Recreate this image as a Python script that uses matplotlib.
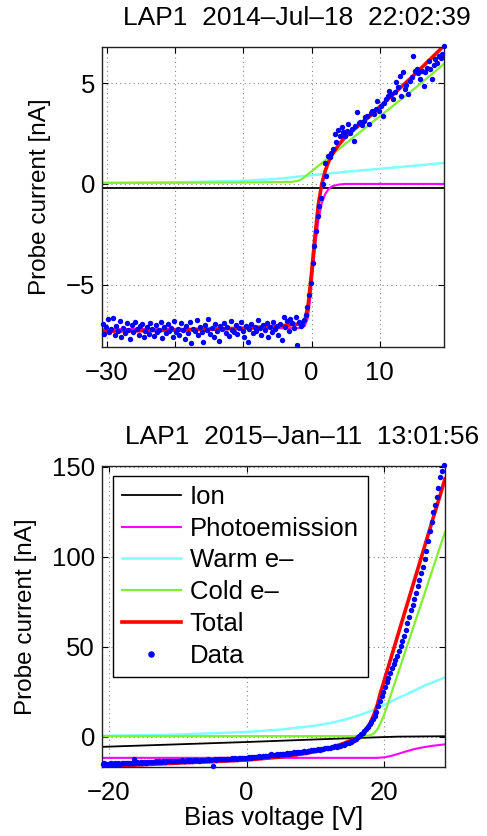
import numpy as np
import matplotlib
matplotlib.use("Agg")
import matplotlib.pyplot as plt

plt.rcParams['font.family'] = ['Liberation Sans', 'DejaVu Sans']

# ---------------- Top panel data (2014-Jul-18) ----------------
top_title = "LAP1  2014–Jul–18  22:02:39"
top_ion_v = [-30.7, 19.4]
top_ion_i = [-0.2, -0.2]
top_photo_v = [-30.7, -2, -1, -0.5, 0, 0.5, 1, 1.5, 2, 2.5, 3, 4, 5, 19.4]
top_photo_i = [-7.2, -7.15, -7.05, -6.6, -5.0, -3.2, -1.8, -0.95, -0.5, -0.25, -0.12, -0.03, 0.0, 0.0]
top_warm_v = [-30.7, -20, -10, -5, -2, 0, 5, 10, 15, 19.4]
top_warm_i = [0.05, 0.08, 0.15, 0.25, 0.36, 0.43, 0.6, 0.75, 0.9, 1.04]
top_cold_v = [-30.7, -10, -3, -2, -1.5, -1, 0, 1, 2, 5, 10, 15, 19.4]
top_cold_i = [0.05, 0.07, 0.1, 0.15, 0.22, 0.35, 0.62, 0.9, 1.17, 2.0, 3.35, 4.7, 5.95]
top_total_v = [-30.7, -20, -10, -5, -2, -1, -0.5, 0, 0.5, 1, 1.5, 2, 2.5, 3, 4, 5, 8.5, 11.5, 14.4, 17.3, 19.4]
top_total_i = [-7.3, -7.25, -7.15, -7.05, -6.95, -6.8, -6.0, -4.4, -2.6, -1.0, 0.0, 0.65, 1.1, 1.45, 1.95, 2.35, 3.35, 4.3, 5.2, 6.15, 6.85]
top_bias_start = -30.6
top_bias_step = 0.25
top_data_i = [
    -6.95, -7.45, -7.1, -6.7, -7.35, -7.2, -6.65, -7.5, -7.05, -7.3,
    -6.8, -7.6, -7.15, -7.4, -6.9, -7.25, -7.7, -7.0, -7.35, -6.85,
    -7.2, -7.5, -7.05, -6.95, -7.6, -7.3, -7.1, -7.45, -6.9, -7.2,
    -7.55, -7.0, -7.35, -7.25, -6.85, -7.65, -7.1, -7.4, -6.95, -7.3,
    -7.15, -7.6, -6.8, -7.35, -7.2, -7.5, -6.9, -7.25, -7.7, -7.05,
    -7.4, -6.85, -7.9, -7.2, -7.3, -6.75, -7.5, -7.1, -7.35, -7.85,
    -7.0, -7.25, -6.7, -7.45, -7.15, -7.6, -6.95, -7.3, -7.8, -7.05,
    -7.2, -6.9, -7.4, -7.1, -7.55, -6.8, -7.25, -7.35, -7.0, -7.45,
    -7.15, -6.85, -7.3, -7.6, -7.05, -7.85, -7.2, -6.95, -7.4, -7.1,
    -7.3, -6.75, -7.15, -7.5, -7.0, -7.25, -6.9, -7.6, -7.1, -7.35,
    -6.85, -7.2, -7.05, -7.5, -6.95, -7.75, -6.6, -7.1, -6.8, -7.3,
    -6.7, -6.9, -7.15, -6.6, -8.0, -6.85, -7.05, -6.95, -6.75,
    -6.5, -6.1, -5.5, -4.9, -3.9, -3.1, -2.35, -1.6, -1.1, -0.7, 0.0, 1.05, 0.4,
    1.4, 1.32, 1.55, 1.73, 2.45, 2.06, 2.69, 2.39, 2.8, 2.55,
    2.39, 2.6, 2.95, 2.5, 2.72, 2.15, 2.85, 3.58, 3.0, 3.09,
    2.9, 3.14, 3.3, 3.38, 2.97, 3.5, 3.63, 3.45, 3.7, 4.13,
    3.6, 3.88, 3.38, 4.0, 4.21, 4.35, 4.62, 4.46, 4.2, 4.55,
    5.03, 4.8, 5.36, 4.37, 5.53, 4.7, 4.9, 4.46, 5.1, 5.3,
    6.32, 5.61, 5.69, 5.5, 5.2, 5.6, 4.87, 5.53, 5.75, 6.1,
    5.69, 5.2, 5.9, 6.19, 6.0, 6.35, 6.25, 6.44, 6.85,
]
top_xticks = [-30, -20, -10, 0, 10]
top_yticks = [-5, 0, 5]

# ---------------- Bottom panel data (2015-Jan-11) ----------------
bot_title = "LAP1  2015–Jan–11  13:01:56"
bot_ion_v = [-21, 0, 12, 18, 22, 28.8]
bot_ion_i = [-5.6, -2.9, -1.2, -0.4, 0.1, 0.3]
bot_photo_v = [-21, 19, 20, 21, 22, 23, 24, 25, 26, 27, 28.8]
bot_photo_i = [-11.7, -11.7, -11.4, -10.6, -9.5, -8.3, -7.2, -6.3, -5.6, -5.0, -4.2]
bot_warm_v = [-21, -10, 0, 5, 10, 12, 14, 16, 18, 20, 22, 24, 26, 28.8]
bot_warm_i = [0.5, 1.2, 2.7, 4.0, 6.2, 7.5, 9.3, 11.5, 14.3, 17.8, 21.5, 25.0, 28.7, 33.0]
bot_cold_v = [-21, 17, 18, 18.5, 19, 19.5, 20, 21, 22, 24, 26, 28.8]
bot_cold_i = [0.3, 0.4, 0.9, 2.0, 4.2, 8.0, 12.6, 24.0, 35.5, 58.5, 81.5, 113.8]
bot_total_v = [-21, -15, -10, -5, 0, 5, 8, 10, 12, 14, 15, 16, 17, 18, 18.5, 19, 19.4,
               20, 21, 22, 23, 24, 25, 26, 27, 28, 28.8]
bot_total_i = [-16.5, -15.5, -14.6, -13.8, -12.9, -11.2, -9.6, -8.2, -6.3, -3.8, -2.2, -0.6, 2.3,
               8.0, 12.5, 18.0, 24.0, 31.6, 44.3, 57.0, 69.7, 82.4, 95.0, 107.8, 120.5, 133.0, 143.3]
bot_bias_start = -20.9
bot_bias_step = 0.25
bot_data_i = [
    -15.2, -14.8, -15.3, -14.9, -15.1, -14.6, -15.0, -14.8, -15.2, -14.7,
    -14.9, -14.5, -14.8, -14.4, -14.7, -14.6, -14.3, -14.6, -12.3, -14.4,
    -14.1, -14.4, -14.2, -14.5, -14.0, -14.3, -13.9, -14.2, -14.0, -13.8,
    -14.0, -13.7, -13.9, -13.6, -13.8, -13.5, -13.9, -13.6, -13.4, -13.7,
    -13.6, -13.3, -13.5, -13.2, -13.6, -13.4, -13.1, -13.3, -13.5, -13.0,
    -13.2, -13.0, -13.3, -12.8, -13.1, -12.9, -13.2, -12.7, -13.0, -12.9,
    -12.8, -12.6, -12.9, -12.7, -16.2, -12.5, -12.8, -12.4, -12.6, -12.3,
    -12.4, -12.2, -12.5, -12.1, -12.3, -12.0, -12.2, -11.9, -12.1, -11.8,
    -12.0, -11.7, -11.9, -11.6, -11.8, -11.4, -11.6, -11.2, -11.5, -11.1,
    -11.0, -10.8, -11.1, -10.6, -10.9, -10.5, -10.7, -10.3, -9.6, -10.0,
    -9.9, -9.7, -9.9, -9.5, -9.6, -9.3, -9.5, -9.1, -9.3, -8.9,
    -8.8, -8.6, -8.8, -8.4, -8.5, -8.2, -8.4, -8.0, -8.2, -7.8,
    -7.7, -7.5, -7.6, -7.2, -7.3, -6.9, -7.1, -6.7, -6.8, -6.5,
    -6.4, -6.0, -6.1, -5.7, -5.7, -5.3, -5.4, -5.0, -4.9, -4.6,
    -4.4, -4.0, -3.6, -3.2, -2.7, -2.2, -1.6, -1.0, -0.3, 0.5,
    1.3, 2.2, 3.2, 4.3, 5.5, 6.9, 8.4, 10.0, 11.8, 13.8,
    17.0, 19.7, 22.4, 25.0, 27.7, 30.3, 32.9, 35.4, 38.0, 40.3,
    42.4, 44.8, 47.5, 50.2, 53.0, 56.1, 59.5, 63.0, 66.8, 70.3,
    73.5, 76.8, 80.0, 83.6, 87.2, 90.9, 94.6, 98.8, 103.5, 109.0,
    114.5, 119.5, 124.9, 128.8, 133.2, 138.5, 144.3, 147.5, 151.0,
]
bot_xticks = [-20, 0, 20]
bot_yticks = [0, 50, 100, 150]

legend_labels = ["Ion", "Photoemission", "Warm e–", "Cold e–", "Total", "Data"]

# ---------------- Styling ----------------
C_ION = "black"
C_PHOTO = "#ff00ff"
C_WARM = "#80ffff"
C_COLD = "#80f030"
C_TOTAL = "#ff0000"
C_DATA = "#0000ff"
FS_TICK = 18.5
FS_LEG = 18.5
FS_TITLE = 19
FS_YLAB = 17.5
FS_XLAB = 18.5

fig = plt.figure(figsize=(4.87, 8.36), dpi=100)
ax1 = fig.add_axes([0.2094, 0.5845, 0.7023, 0.3596])
ax2 = fig.add_axes([0.2094, 0.0825, 0.7043, 0.3604])


def draw(ax, ion, photo, warm, cold, total, data_v, data_i):
    h = []
    h += ax.plot(*ion, color=C_ION, lw=1.3, label=legend_labels[0])
    h += ax.plot(*photo, color=C_PHOTO, lw=1.5, label=legend_labels[1])
    h += ax.plot(*warm, color=C_WARM, lw=1.8, label=legend_labels[2])
    h += ax.plot(*cold, color=C_COLD, lw=1.6, label=legend_labels[3])
    h += ax.plot(*total, color=C_TOTAL, lw=2.6, label=legend_labels[4])
    h += ax.plot(data_v, data_i, ls="none", marker="o", ms=3.9, mew=0,
                 color=C_DATA, label=legend_labels[5], clip_on=False, zorder=5)
    return h


def style(ax, xticks, yticks):
    ax.set_xticks(xticks)
    ax.set_yticks(yticks)
    ax.grid(True, ls=(0, (1, 3)), color="#888888", lw=0.8)
    ax.tick_params(direction="in", top=True, right=True, length=4, width=0.8,
                   labelsize=FS_TICK, colors="black")
    ax.tick_params(axis="x", pad=10)
    ax.tick_params(axis="y", pad=5)
    for s in ax.spines.values():
        s.set_linewidth(1.0)
        s.set_color("#222222")


top_bias = top_bias_start + top_bias_step * np.arange(len(top_data_i))
draw(ax1, (top_ion_v, top_ion_i), (top_photo_v, top_photo_i), (top_warm_v, top_warm_i),
     (top_cold_v, top_cold_i), (top_total_v, top_total_i), top_bias, top_data_i)
ax1.set_xlim(-30.7, 19.4)
ax1.set_ylim(-8.1, 6.8)
style(ax1, top_xticks, top_yticks)
ax1.set_ylabel("Probe current [nA]", fontsize=FS_YLAB)
ax1.yaxis.set_label_coords(-0.15, 0.5)

bot_bias = bot_bias_start + bot_bias_step * np.arange(len(bot_data_i))
handles = draw(ax2, (bot_ion_v, bot_ion_i), (bot_photo_v, bot_photo_i), (bot_warm_v, bot_warm_i),
               (bot_cold_v, bot_cold_i), (bot_total_v, bot_total_i), bot_bias, bot_data_i)
ax2.set_xlim(-21.0, 28.8)
ax2.set_ylim(-16.8, 150.6)
style(ax2, bot_xticks, bot_yticks)
ax2.set_ylabel("Probe current [nA]", fontsize=FS_YLAB)
ax2.yaxis.set_label_coords(-0.19, 0.5)
ax2.set_xlabel("Bias voltage [V]", fontsize=FS_XLAB)
ax2.xaxis.set_label_coords(0.5, -0.13)

leg = ax2.legend(handles=handles, loc="upper left", bbox_to_anchor=(0.031, 0.966),
                 borderaxespad=0, fontsize=FS_LEG, frameon=True, fancybox=False,
                 edgecolor="black", framealpha=1, handlelength=2.3, handletextpad=0.35,
                 labelspacing=0.3, borderpad=0.35, markerscale=1.2)
leg.get_frame().set_linewidth(1.0)
leg.set_zorder(10)

fig.text(0.61, 0.970, top_title, ha="center", va="baseline", fontsize=FS_TITLE)
fig.text(0.984, 0.4685, bot_title, ha="right", va="baseline", fontsize=FS_TITLE)

fig.savefig("out.png", dpi=100)
